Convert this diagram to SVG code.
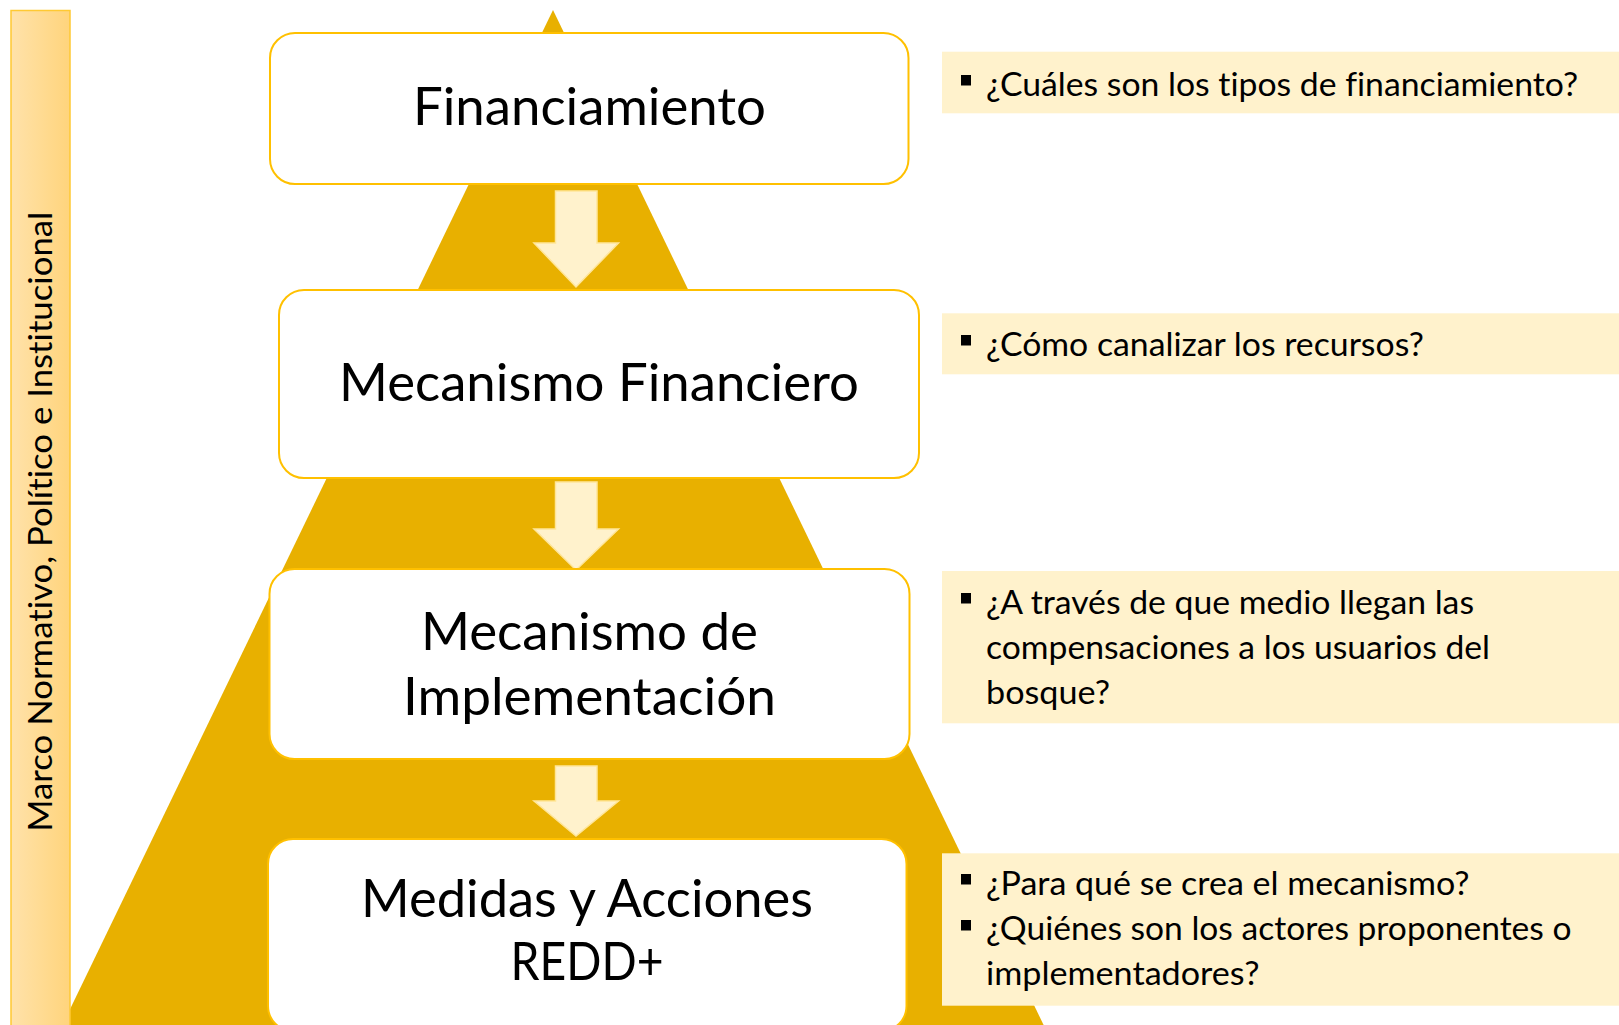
<svg xmlns="http://www.w3.org/2000/svg" width="1619" height="1025" viewBox="0 0 1619 1025">
<defs>
<linearGradient id="barGrad" x1="0" y1="0" x2="1" y2="0">
<stop offset="0" stop-color="#FFE2AA"/>
<stop offset="1" stop-color="#FFD47C"/>
</linearGradient>
<style>
.node{fill:#FFFFFF;stroke:#FFC000;stroke-width:2}
.big{font-family:Lato,"Open Sans","Liberation Sans",sans-serif;font-size:53px;fill:#000;text-anchor:middle;font-variant-ligatures:none}
.q{font-family:Lato,"Open Sans","Liberation Sans",sans-serif;font-size:32.5px;fill:#000;font-variant-ligatures:none}
.panel{fill:#FFF2CC}
.bul{fill:#000}
.arrow{fill:#FFF2CC;stroke:#FFE699;stroke-width:1.5}
</style>
</defs>
<rect width="1619" height="1025" fill="#FFFFFF"/>
<g id="pyramid">
<polygon points="553,10 1047,1032 59,1032" fill="#E8B000"/>
</g>
<g id="side-bar">
<rect x="11" y="10.5" width="59" height="1020" fill="url(#barGrad)" stroke="#FFC933" stroke-width="1.5"/>
<text class="q" transform="translate(52,521.7) rotate(-90)" text-anchor="middle" font-size="32" textLength="620" lengthAdjust="spacingAndGlyphs">Marco Normativo, Político e Institucional</text>
</g>
<g id="connectors">
<path class="arrow" d="M555.5,191 H597 V243 H618.5 L576,287 L534,243 H555.5 Z"/>
<path class="arrow" d="M555.5,482 H597 V529 H618.5 L576,570 L534,529 H555.5 Z"/>
<path class="arrow" d="M555.5,766 H597 V801 H618.5 L576,836 L534,801 H555.5 Z"/>
</g>
<g id="node-financiamiento">
<rect class="node" x="270" y="33" width="638.5" height="151" rx="25"/>
<text class="big" x="589.5" y="125" textLength="353" lengthAdjust="spacingAndGlyphs">Financiamiento</text>
</g>
<g id="node-mecanismo-financiero">
<rect class="node" x="279" y="290" width="640" height="188" rx="25"/>
<text class="big" x="599" y="401" textLength="520" lengthAdjust="spacingAndGlyphs">Mecanismo Financiero</text>
</g>
<g id="node-mecanismo-implementacion">
<rect class="node" x="269.5" y="569" width="640" height="190" rx="25"/>
<text class="big" x="589.5" y="650" textLength="337" lengthAdjust="spacingAndGlyphs">Mecanismo de</text>
<text class="big" x="589.5" y="714.5" textLength="373" lengthAdjust="spacingAndGlyphs">Implementación</text>
</g>
<g id="node-medidas">
<rect class="node" x="268" y="839" width="638.5" height="192" rx="25"/>
<text class="big" x="587" y="917" textLength="452" lengthAdjust="spacingAndGlyphs">Medidas y Acciones</text>
<text class="big" x="587" y="980" textLength="153" lengthAdjust="spacingAndGlyphs">REDD+</text>
</g>
<g id="panel-1">
<rect class="panel" x="942" y="51.7" width="677" height="61.6"/>
<rect class="bul" x="961" y="75" width="10" height="10.5"/>
<text class="q" x="986" y="95.5" textLength="592" lengthAdjust="spacingAndGlyphs">¿Cuáles son los tipos de financiamiento?</text>
</g>
<g id="panel-2">
<rect class="panel" x="942" y="313.3" width="677" height="61"/>
<rect class="bul" x="961" y="335" width="10" height="10.5"/>
<text class="q" x="986" y="355.5" textLength="438" lengthAdjust="spacingAndGlyphs">¿Cómo canalizar los recursos?</text>
</g>
<g id="panel-3">
<rect class="panel" x="942" y="571" width="677" height="152.3"/>
<rect class="bul" x="961" y="593" width="10" height="10.5"/>
<text class="q" x="986" y="613.5" textLength="488" lengthAdjust="spacingAndGlyphs">¿A través de que medio llegan las</text>
<text class="q" x="986" y="659" textLength="504" lengthAdjust="spacingAndGlyphs">compensaciones a los usuarios del</text>
<text class="q" x="986" y="704" textLength="124" lengthAdjust="spacingAndGlyphs">bosque?</text>
</g>
<g id="panel-4">
<rect class="panel" x="942" y="853.3" width="677" height="152.4"/>
<rect class="bul" x="961" y="874" width="10" height="10.5"/>
<text class="q" x="986" y="894.5" textLength="483.5" lengthAdjust="spacingAndGlyphs">¿Para qué se crea el mecanismo?</text>
<rect class="bul" x="961" y="920" width="10" height="10.5"/>
<text class="q" x="986" y="940" textLength="585.5" lengthAdjust="spacingAndGlyphs">¿Quiénes son los actores proponentes o</text>
<text class="q" x="986" y="985" textLength="273.5" lengthAdjust="spacingAndGlyphs">implementadores?</text>
</g>
</svg>
